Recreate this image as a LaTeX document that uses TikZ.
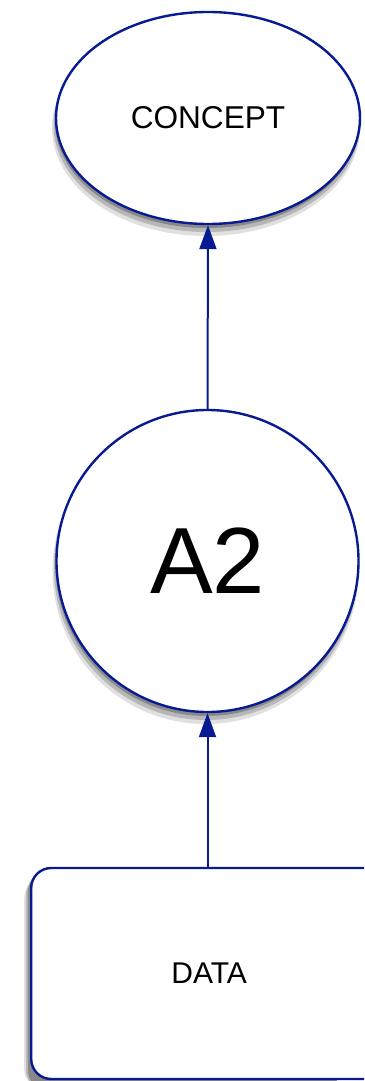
\documentclass[tikz,border=0pt]{standalone}
\usepackage{fontspec}
\setmainfont{Liberation Sans}
\usetikzlibrary{arrows.meta,shapes.geometric}
\definecolor{edge}{RGB}{8,26,145}

\begin{document}
\begin{tikzpicture}[x=0.5pt, y=-0.5pt, line width=1.2pt,
   shadeA/.style={black, opacity=0.12},
   shadeB/.style={black, opacity=0.18},
   shadeC/.style={black, opacity=0.25},
   concept/.style={ellipse, draw=edge, fill=white, minimum width=152pt, minimum height=106pt, inner sep=0pt, font=\fontsize{15.8}{18}\selectfont},
   level/.style={circle, draw=edge, fill=white, minimum size=151pt, inner sep=0pt, font=\fontsize{47}{52}\selectfont},
   source/.style={rectangle, rounded corners=10pt, draw=edge, fill=white, minimum width=195pt, minimum height=105.5pt, inner sep=0pt, anchor=west, font=\fontsize{15}{18}\selectfont},
   up/.style={draw=edge, line width=1pt, -{Triangle[length=12pt, width=8.5pt]}}]
  \useasboundingbox (0,0) rectangle (364,1081);
  \clip (0,0) rectangle (364,1081);
  \fill[white] (0,0) rectangle (364,1081);
  % shadows
  \fill[shadeA] (206,128) ellipse (154 and 108);
  \fill[shadeB] (206.5,125) ellipse (153 and 107);
  \fill[shadeC] (207,122) ellipse (152 and 106);
  \fill[shadeA] (205.5,571) ellipse (153 and 153);
  \fill[shadeB] (206,568) ellipse (152 and 152);
  \fill[shadeC] (206.5,565) ellipse (151 and 151);
  \fill[shadeA, rounded corners=11pt] (24,878) rectangle (340,1090);
  \fill[shadeB, rounded corners=10pt] (26,874) rectangle (340,1090);
  \fill[shadeC, rounded corners=10pt] (28,871) rectangle (340,1090);
  % the three levels, bottom to top
  \node[concept](concept) at (208,118){CONCEPT};
  \node[level](a2) at (207.5,561){A2};
  \node[source](data) at (30,973.5){\hspace*{-17pt}DATA};
  \draw[up] (a2.north) -- (concept.south);
  \draw[up] (data.north -| a2.south) -- (a2.south);
\end{tikzpicture}
\end{document}
